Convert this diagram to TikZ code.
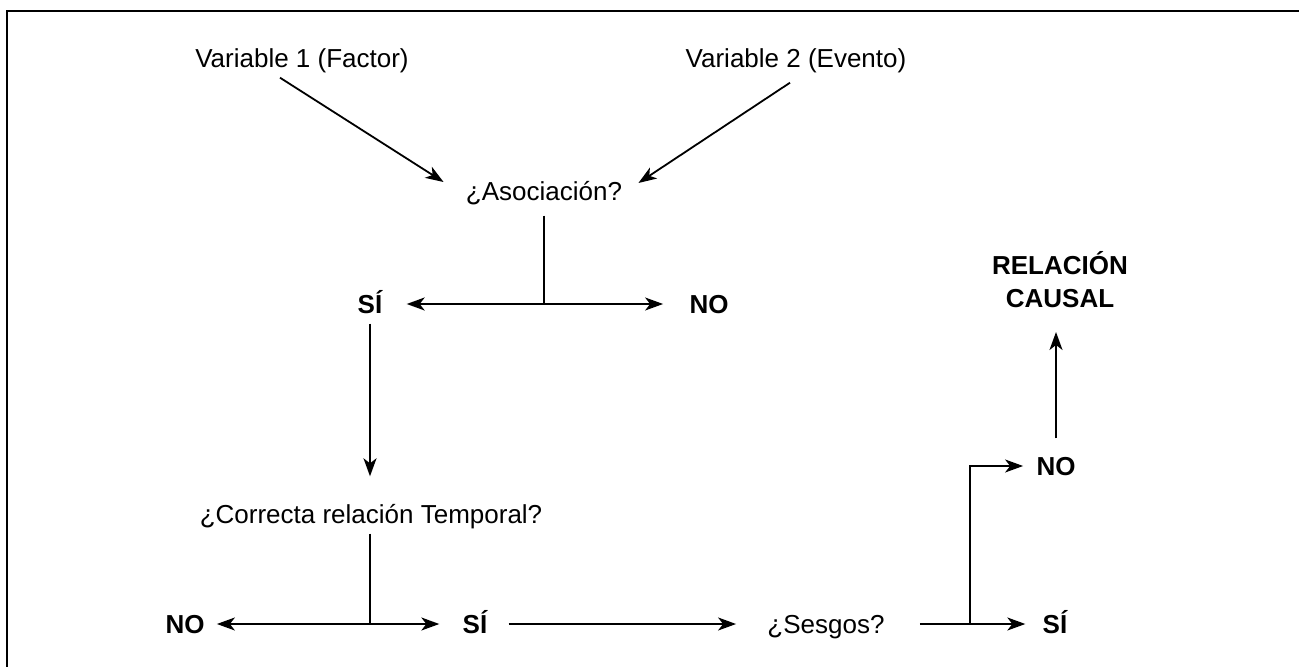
\documentclass[tikz,border=0pt]{standalone}
\usepackage{fontspec}
\setmainfont{Liberation Sans}
\usetikzlibrary{arrows.meta}
\tikzset{
    plainText/.style={inner sep=0pt, text height=9.3pt, text depth=0pt, font=\fontsize{13pt}{16.5pt}\selectfont},
    boldText/.style={plainText, font=\fontsize{13pt}{16.5pt}\selectfont\bfseries},
    plainLine/.style={line width=0.9pt},
    arrowLine/.style={plainLine, -{Stealth[length=9pt,width=6.5pt,inset=2.5pt]}}
}

\begin{document}
\begin{tikzpicture}[x=0.5pt,y=-0.5pt]
            \useasboundingbox (0,0) rectangle (1299,667);
            \draw[line width=1pt] (7,667) -- (7,11) -- (1299,11);

            \node[plainText] (varOne) at (302,58) {Variable 1 (Factor)};
            \node[plainText] (varTwo) at (796,58) {Variable 2 (Evento)};
            \node[plainText] (asoc) at (544,191) {¿Asociación?};
            \node[boldText] (siOne) at (370,304) {SÍ};
            \node[boldText] (noOne) at (709,304) {NO};
            \node[plainText] (correcta) at (371,514) {¿Correcta relación Temporal?};
            \node[boldText] (noTwo) at (185,624) {NO};
            \node[boldText] (siTwo) at (475,624) {SÍ};
            \node[plainText] (sesgos) at (826,624) {¿Sesgos?};
            \node[boldText] (siThree) at (1055,624) {SÍ};
            \node[boldText] (noThree) at (1056,466) {NO};
            \node[inner sep=0pt, align=center, anchor=south, font=\fontsize{13pt}{16.5pt}\selectfont\bfseries] (causal) at (1060,308) {RELACIÓN\\CAUSAL};

            \coordinate (jOne) at (asoc.south |- siOne);
            \coordinate (jTwo) at (siOne |- siTwo);
            \coordinate (jThree) at ([xshift=42.5pt]sesgos.east);

            \draw[arrowLine] ([xshift=-11pt,yshift=-5pt]varOne.south) -- ([xshift=-11pt,yshift=4.5pt]asoc.west);
            \draw[arrowLine] ([xshift=-3pt,yshift=-7.5pt]varTwo.south) -- ([xshift=8pt,yshift=4pt]asoc.east);

            \draw[plainLine, shorten <=7.5pt] (asoc.south) -- (jOne);
            \draw[arrowLine, shorten >=12pt] (jOne) -- (siOne.east);
            \draw[arrowLine, shorten >=13pt] (jOne) -- (noOne.west);
            \draw[arrowLine, shorten <=5pt, shorten >=14pt] (siOne.south) -- (siOne.south |- correcta.north);

            \draw[plainLine, shorten <=5pt] (jTwo |- correcta.south) -- (jTwo);
            \draw[arrowLine, shorten >=6pt] (jTwo) -- (noTwo.east);
            \draw[arrowLine, shorten >=11.5pt] (jTwo) -- (siTwo.west);
            \draw[arrowLine, shorten <=10.5pt, shorten >=15.5pt] (siTwo.east) -- (sesgos.west);
            \draw[arrowLine, shorten <=17.5pt, shorten >=8.5pt] (sesgos.east) -- (siThree.west);
            \draw[arrowLine, shorten >=6.5pt] (jThree) |- (noThree.west);
            \draw[arrowLine, shorten <=9pt, shorten >=12pt] (noThree.north) -- (noThree.north |- causal.south);
\end{tikzpicture}
\end{document}
